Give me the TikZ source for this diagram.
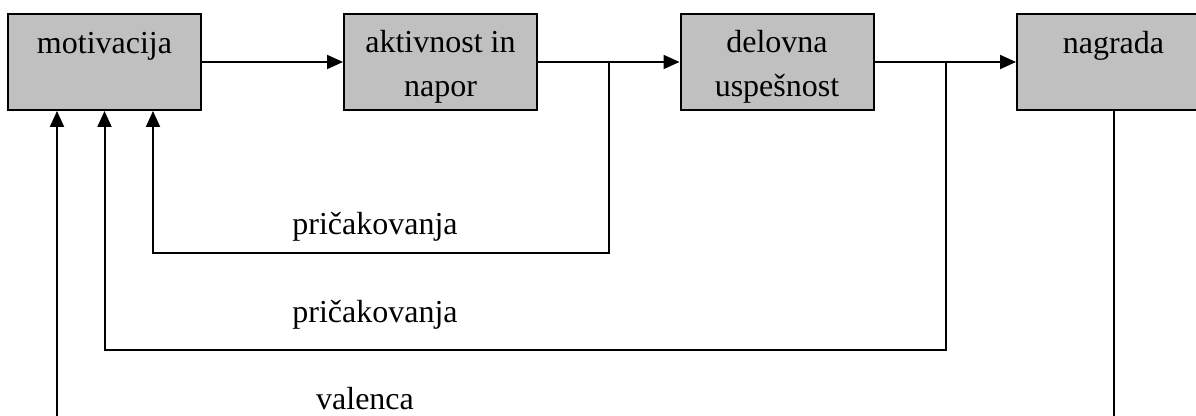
\documentclass[tikz,border=0pt]{standalone}
\usepackage{fontspec}
\setmainfont{Liberation Serif}
\usetikzlibrary{arrows.meta}
\definecolor{boxgray}{HTML}{C0C0C0}

\begin{document}
\begin{tikzpicture}
    [x=0.5pt,y=-0.5pt,line width=1pt,
     font=\fontsize{16}{22}\selectfont,
     box/.style={draw,fill=boxgray,minimum width=96.5pt,minimum height=48pt,inner sep=0pt},
     boxtext/.style={align=center,anchor=base,inner sep=0pt},
     arr/.style={-{Triangle[length=8pt,width=7pt]}}]
    \useasboundingbox (0,0) rectangle (1196,416);
    \clip (0,0) rectangle (1196,416);

    \node[box] (mot) at (104.5,62) {};
    \node[box] (akt) at (440.5,62) {};
    \node[box] (del) at (777,62) {};
    \node[box] (nag) at (1113.5,62) {};

    \node[boxtext] (mott) at (104.5,54) {motivacija};
    \node[boxtext] (aktt) at (440.5,97) {aktivnost in\\napor};
    \node[boxtext] (delt) at (777,97) {delovna\\uspešnost};
    \node[boxtext] (nagt) at (1113.5,54) {nagrada};

    \draw[arr] (mot) -- (akt);
    \draw[arr] (akt) -- (del);
    \draw[arr] (del) -- (nag);

    % feedback
    \coordinate (b1) at (609,62);
    \coordinate (b2) at (946,62);
    \draw[arr] (b1) -- ++(0,191) -| ([xshift=24.25pt]mot.south);
    \draw[arr] (b2) -- ++(0,288) -| (mot.south);
    \draw[arr] (nag.south) -- ++(0,340) -| ([xshift=-23.75pt]mot.south);

    \node[anchor=base,inner sep=0pt] (pr1) at (375,235) {pričakovanja};
    \node[anchor=base,inner sep=0pt] (pr2) at (375,323) {pričakovanja};
    \node[anchor=base,inner sep=0pt] (val) at (365,410) {valenca};
\end{tikzpicture}
\end{document}
